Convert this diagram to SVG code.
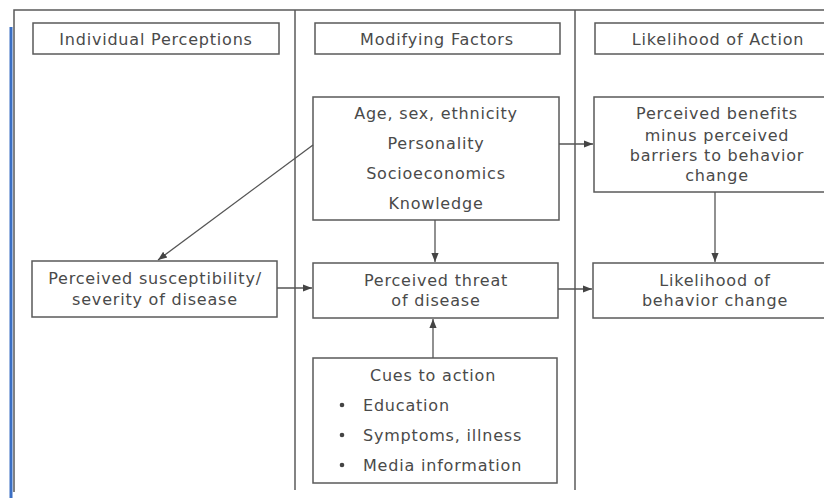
<svg xmlns="http://www.w3.org/2000/svg" width="824" height="498" viewBox="0 0 824 498">
<style>
.frame{fill:none;stroke:#5a5a5a;stroke-width:1.5}
.box{fill:#fff;stroke:#5a5a5a;stroke-width:1.5}
.t{font-family:"DejaVu Sans","Liberation Sans",sans-serif;font-size:16px;letter-spacing:0.8px;fill:#4a4a4a;text-anchor:middle}
.tl{font-family:"DejaVu Sans","Liberation Sans",sans-serif;font-size:16px;letter-spacing:0.8px;fill:#4a4a4a}
.c{stroke:#555;stroke-width:1.3;fill:none;marker-end:url(#ah)}
</style>
<defs>
<marker id="ah" viewBox="0 0 10 10" refX="10" refY="5" markerWidth="9" markerHeight="9" markerUnits="userSpaceOnUse" orient="auto">
<path d="M0,1 L10,5 L0,9 z" fill="#444"/>
</marker>
</defs>
<rect width="824" height="498" fill="#fff"/>
<g id="frame">
<path class="frame" d="M14,492 L14,10 L824,10"/>
<line class="frame" x1="295" y1="10" x2="295" y2="490"/>
<line class="frame" x1="575" y1="10" x2="575" y2="490"/>
<line x1="11" y1="27" x2="11" y2="498" stroke="#3a6fc4" stroke-width="3"/>
</g>
<g id="h1"><rect class="box" x="33" y="23" width="246" height="31"/><text class="t" x="156" y="45">Individual Perceptions</text></g>
<g id="h2"><rect class="box" x="315" y="23" width="245" height="31"/><text class="t" x="437" y="45">Modifying Factors</text></g>
<g id="h3"><rect class="box" x="595" y="23" width="245" height="31"/><text class="t" x="718" y="45">Likelihood of Action</text></g>
<g id="factors"><rect class="box" x="313" y="97" width="246" height="123"/>
<text class="t" x="436" y="119">Age, sex, ethnicity</text>
<text class="t" x="436" y="149">Personality</text>
<text class="t" x="436" y="179">Socioeconomics</text>
<text class="t" x="436" y="209">Knowledge</text></g>
<g id="benefits"><rect class="box" x="594" y="97" width="246" height="95"/>
<text class="t" x="717" y="119">Perceived benefits</text>
<text class="t" x="717" y="141">minus perceived</text>
<text class="t" x="717" y="161">barriers to behavior</text>
<text class="t" x="717" y="181">change</text></g>
<g id="susceptibility"><rect class="box" x="32" y="261" width="245" height="56"/>
<text class="t" x="155" y="284">Perceived susceptibility/</text>
<text class="t" x="155" y="305">severity of disease</text></g>
<g id="threat"><rect class="box" x="313" y="263" width="245" height="55"/>
<text class="t" x="436" y="286">Perceived threat</text>
<text class="t" x="436" y="306">of disease</text></g>
<g id="likelihood"><rect class="box" x="593" y="263" width="247" height="55"/>
<text class="t" x="715" y="286">Likelihood of</text>
<text class="t" x="715" y="306">behavior change</text></g>
<g id="cues"><rect class="box" x="313" y="358" width="244" height="125"/>
<text class="t" x="433" y="381">Cues to action</text>
<circle cx="342" cy="405" r="2.3" fill="#444"/><text class="tl" x="363" y="411">Education</text>
<circle cx="342" cy="435" r="2.3" fill="#444"/><text class="tl" x="363" y="441">Symptoms, illness</text>
<circle cx="342" cy="465" r="2.3" fill="#444"/><text class="tl" x="363" y="471">Media information</text></g>
<g id="connectors">
<line class="c" x1="559" y1="144" x2="593" y2="144"/>
<line class="c" x1="435" y1="220" x2="435" y2="262"/>
<line class="c" x1="715" y1="192" x2="715" y2="262"/>
<line class="c" x1="313" y1="145" x2="158" y2="260"/>
<line class="c" x1="277" y1="288" x2="312" y2="288"/>
<line class="c" x1="558" y1="289" x2="592" y2="289"/>
<line class="c" x1="433" y1="358" x2="433" y2="319"/>
</g>
</svg>
